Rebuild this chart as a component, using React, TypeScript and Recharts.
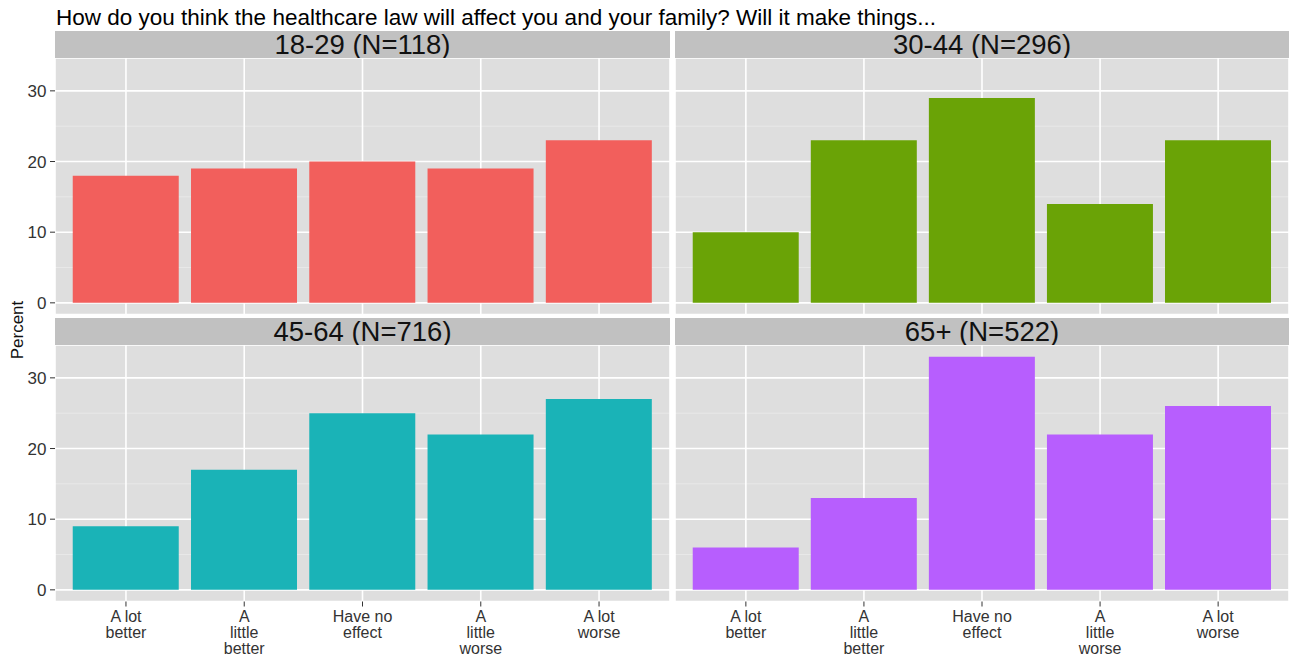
import { Bar, BarChart, CartesianGrid, XAxis, YAxis } from "recharts";

const categories = ["A lot better", "A little better", "Have no effect", "A little worse", "A lot worse"];
// wrapped tick labels, one list of lines per category
const tickLabelLines = [
  ["A lot", "better"],
  ["A", "little", "better"],
  ["Have no", "effect"],
  ["A", "little", "worse"],
  ["A lot", "worse"],
];

const age18to29 = [18, 19, 20, 19, 23];
const age30to44 = [10, 23, 29, 14, 23];
const age45to64 = [9, 17, 25, 22, 27];
const age65plus = [6, 13, 33, 22, 26];

const panelTitles = ["18-29 (N=118)", "30-44 (N=296)", "45-64 (N=716)", "65+ (N=522)"];
const panelColors = ["#F25F5C", "#6AA306", "#1AB3B7", "#B75EFE"];
const panelValues = [age18to29, age30to44, age45to64, age65plus];

const majorTicks = [0, 10, 20, 30];
const minorTicks = [5, 15, 25];
const yDomain = [-1.65, 34.65];

const FONT = "'Liberation Sans', Arial, Helvetica, sans-serif";
const PLOT_W = 615;
const PLOT_H = 256.5;
const Y_AXIS_W = 55;
const X_AXIS_H = 58;
const COL_X = [0, 675];
const ROW_Y = [58.1, 345.1];
const STRIP_Y = [31, 318];
const STRIP_H = 27;

function XTick(props: any) {
  const { x, y, payload } = props;
  const lines = tickLabelLines[categories.indexOf(payload.value)] ?? [payload.value];
  return (
    <text x={x} y={y} textAnchor="middle" fontSize={16} fill="#333" fontFamily={FONT}>
      {lines.map((l, i) => (
        <tspan key={i} x={x} dy={i === 0 ? 13.5 : 16}>
          {l}
        </tspan>
      ))}
    </text>
  );
}

function Panel({ idx }: { idx: number }) {
  const col = idx % 2;
  const row = Math.floor(idx / 2);
  const showY = col === 0;
  const showX = row === 1;
  const width = (showY ? Y_AXIS_W : 0) + (col === 1 ? PLOT_W - 1 : PLOT_W);
  const height = PLOT_H + (showX ? X_AXIS_H : 0);
  const data = categories.map((c, i) => ({ category: c, value: panelValues[idx][i] }));
  const pad = (PLOT_W * 0.1) / 5.2;

  return (
    <div style={{ position: "absolute", left: COL_X[col], top: ROW_Y[row] }}>
      <BarChart
        width={width}
        height={height}
        data={data}
        margin={{ top: 0, right: 0, bottom: 0, left: 0 }}
        barCategoryGap="5%"
      >
        <CartesianGrid yAxisId="minor" vertical={false} stroke="#E8E8E8" strokeWidth={1} fill="#DEDEDE" />
        <CartesianGrid stroke="#FFFFFF" strokeWidth={1.6} />
        <XAxis
          dataKey="category"
          hide={!showX}
          height={X_AXIS_H}
          padding={{ left: pad, right: pad }}
          axisLine={false}
          tickSize={5}
          tickMargin={2}
          tickLine={{ stroke: "#333" }}
          interval={0}
          tick={<XTick />}
        />
        <YAxis
          domain={yDomain}
          allowDataOverflow
          ticks={majorTicks}
          hide={!showY}
          width={Y_AXIS_W}
          axisLine={false}
          tickSize={5}
          tickMargin={3.5}
          tickLine={{ stroke: "#333" }}
          tick={{ fontSize: 17, fill: "#333", fontFamily: FONT }}
        />
        <YAxis yAxisId="minor" domain={yDomain} allowDataOverflow ticks={minorTicks} hide />
        <Bar dataKey="value" fill={panelColors[idx]} isAnimationActive={false} />
      </BarChart>
    </div>
  );
}

export default function App() {
  return (
    <div
      style={{
        position: "absolute",
        left: 0,
        top: 0,
        width: 1289,
        height: 660,
        background: "#FFFFFF",
        fontFamily: FONT,
        overflow: "hidden",
      }}
    >
      <div
        style={{
          position: "absolute",
          left: 56,
          top: 6.5,
          fontSize: 22.5,
          lineHeight: 1,
          color: "#000",
          whiteSpace: "nowrap",
        }}
      >
        How do you think the healthcare law will affect you and your family? Will it make things...
      </div>
      {panelTitles.map((t, i) => {
        const col = i % 2;
        const row = Math.floor(i / 2);
        return (
          <div
            key={t}
            style={{
              position: "absolute",
              left: COL_X[col] + (col === 0 ? Y_AXIS_W : 0),
              top: STRIP_Y[row],
              width: col === 1 ? PLOT_W - 1 : PLOT_W,
              height: STRIP_H,
              background: "#C1C1C1",
              color: "#111",
              fontSize: 27.5,
              lineHeight: `${STRIP_H}px`,
              textAlign: "center",
              whiteSpace: "nowrap",
            }}
          >
            {t}
          </div>
        );
      })}
      {panelTitles.map((t, i) => (
        <Panel key={`p-${t}`} idx={i} />
      ))}
      <div
        style={{
          position: "absolute",
          left: 17,
          top: 330,
          fontSize: 17,
          lineHeight: 1,
          color: "#111",
          transform: "translate(-50%, -50%) rotate(-90deg)",
          whiteSpace: "nowrap",
        }}
      >
        Percent
      </div>
    </div>
  );
}
